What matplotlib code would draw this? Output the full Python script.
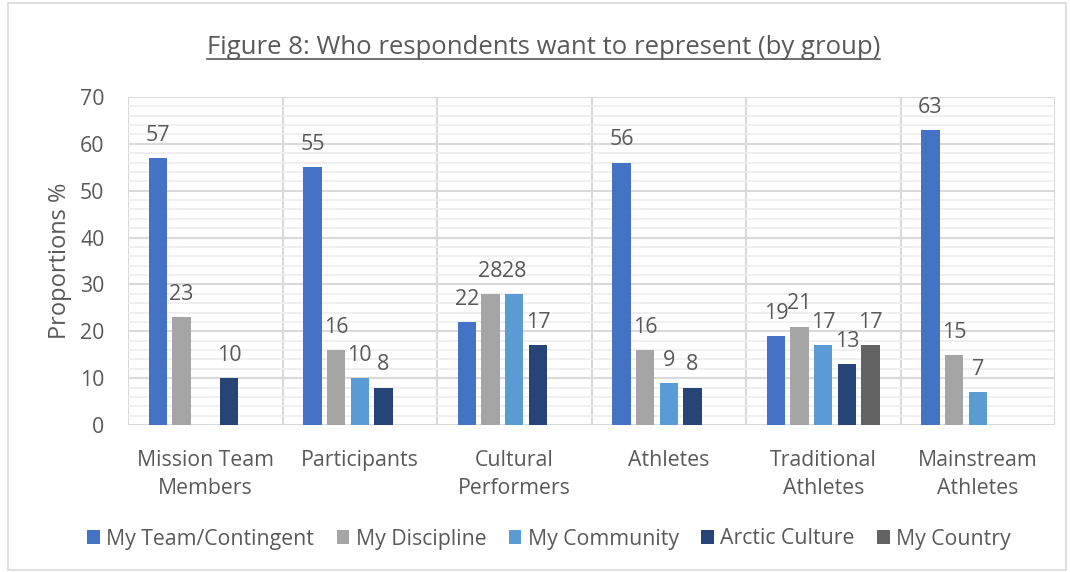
import numpy as np
import matplotlib.pyplot as plt
from matplotlib.patches import Rectangle
from matplotlib.lines import Line2D
from matplotlib.ticker import MultipleLocator

plt.rcParams['font.family'] = ['Open Sans', 'DejaVu Sans']

groups = ["Mission Team\nMembers", "Participants", "Cultural\nPerformers",
          "Athletes", "Traditional\nAthletes", "Mainstream\nAthletes"]
series = ["My Team/Contingent", "My Discipline", "My Community",
          "Arctic Culture", "My Country"]
team = [57, 55, 22, 56, 19, 63]
discipline = [23, 16, 28, 16, 21, 15]
community = [None, 10, 28, 9, 17, 7]
arctic = [10, 8, 17, 8, 13, None]
country = [None, None, None, None, 17, None]
values = [team, discipline, community, arctic, country]
colors = ["#4472C4", "#A5A5A5", "#5B9BD5", "#264478", "#636363"]
txt = "#595959"

fig = plt.figure(figsize=(10.7, 5.72), dpi=100)
ax = fig.add_axes([128 / 1070, 1 - 425 / 572, 927 / 1070, 328 / 572])

x = np.arange(len(groups))
step = 0.153
width = 0.118
for i, (name, vals, c) in enumerate(zip(series, values, colors)):
    v = np.array([np.nan if a is None else a for a in vals], dtype=float)
    pos = x + (i - 2) * step
    ax.bar(pos, v, width, color=c, label=name, zorder=3)
    for p, val in zip(pos, v):
        if not np.isnan(val):
            ax.text(p, val + 2.6, "%d" % val, ha="center", va="bottom",
                    fontsize=15.5, color=txt)

ax.set_xlim(-0.5, len(groups) - 0.5)
ax.set_ylim(0, 70)
ax.yaxis.set_major_locator(MultipleLocator(10))
ax.yaxis.set_minor_locator(MultipleLocator(2))
ax.grid(axis="y", which="major", color="#D9D9D9", lw=1.5, zorder=0)
ax.grid(axis="y", which="minor", color="#EDEDED", lw=1.2, zorder=0)
for b in np.arange(-0.5, len(groups), 1):
    ax.axvline(b, color="#D9D9D9", lw=1.5, zorder=1)
for s in ax.spines.values():
    s.set_visible(False)
ax.set_xticks(x)
ax.set_xticklabels(groups, fontsize=15.3, color=txt, va="top", linespacing=1.45)
ax.tick_params(axis="both", which="both", length=0, labelcolor=txt)
ax.tick_params(axis="x", pad=18)
ax.tick_params(axis="y", labelsize=15.3, pad=17)
ax.set_ylabel("Proportions %", fontsize=17, color=txt, labelpad=6)

leg = fig.legend(loc="center", bbox_to_anchor=(0.513, 1 - 539 / 572), ncol=5,
                 frameon=False, fontsize=15.3, handlelength=0.6, handleheight=0.6,
                 handletextpad=0.3, columnspacing=1.05, labelcolor=txt)

title = fig.text(0.508, 1 - 48 / 572, "Figure 8: Who respondents want to represent (by group)",
                 ha="center", va="center", fontsize=18.5, color=txt)
fig.canvas.draw()
bb = title.get_window_extent().transformed(fig.transFigure.inverted())
fig.add_artist(Line2D([bb.x0, bb.x1], [bb.y0 + 0.002, bb.y0 + 0.002],
                      color=txt, lw=1.2, transform=fig.transFigure))

fig.add_artist(Rectangle((8 / 1070, 2 / 572), 1058 / 1070, 567 / 572, fill=False,
                         edgecolor="#D9D9D9", lw=1.2, transform=fig.transFigure))

fig.savefig("out.png", dpi=100)
